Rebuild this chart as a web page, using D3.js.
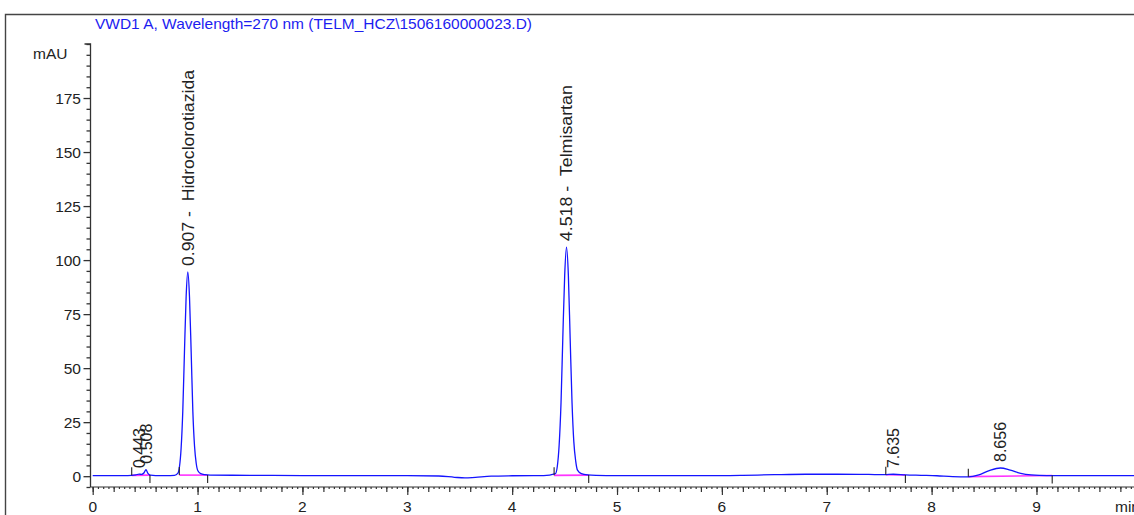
<!DOCTYPE html>
<html><head><meta charset="utf-8">
<script src="https://cdn.jsdelivr.net/npm/d3@7"></script>
<style>
html,body{margin:0;padding:0;background:#fff;overflow:hidden}
svg{display:block;font-family:"Liberation Sans",Arial,sans-serif}
</style></head><body>
<script>
// ---- data ----
const title = "VWD1 A, Wavelength=270 nm (TELM_HCZ\\1506160000023.D)";
const yUnit = "mAU";
const xUnit = "min";
const yTicks = [0, 25, 50, 75, 100, 125, 150, 175];
const xTicks = [0, 1, 2, 3, 4, 5, 6, 7, 8, 9];
const traceTime = [0, 0.2, 0.30, 0.37, 0.41, 0.443, 0.465, 0.49, 0.508, 0.525, 0.55, 0.60, 0.70, 0.78, 0.811, 0.827, 0.843, 0.859, 0.875, 0.891, 0.907, 0.923, 0.939, 0.955, 0.971, 0.987, 1.003, 1.03, 1.07, 1.12, 1.5, 2.0, 2.5, 3.0, 3.3, 3.45, 3.55, 3.65, 3.8, 4.0, 4.3, 4.413, 4.431, 4.448, 4.466, 4.483, 4.501, 4.518, 4.536, 4.553, 4.571, 4.588, 4.606, 4.623, 4.66, 4.72, 4.8, 5.0, 5.5, 6.0, 6.2, 6.5, 6.8, 7.1, 7.4, 7.55, 7.635, 7.75, 7.9, 8.05, 8.2, 8.35, 8.45, 8.55, 8.656, 8.75, 8.85, 8.95, 9.1, 9.5, 9.93];
const traceMAU  = [0.3, 0.3, 0.3, 0.4, 0.6, 1.0, 0.8, 1.6, 3.0, 1.4, 0.5, 0.3, 0.3, 0.4, 1.3, 4.2, 12.8, 30, 57.5, 83, 94.5, 83, 57.5, 30, 14, 6, 2.5, 1.2, 0.7, 0.5, 0.4, 0.3, 0.3, 0.3, 0.1, -0.5, -0.8, -0.5, 0.0, 0.2, 0.3, 1.2, 4.7, 14.3, 34, 64, 93, 106, 93, 64, 34, 16, 7, 2.8, 1.2, 0.6, 0.4, 0.3, 0.3, 0.3, 0.4, 0.7, 0.9, 0.9, 0.8, 0.7, 0.9, 0.6, 0.4, 0.2, -0.2, -0.3, 0.6, 2.6, 3.8, 2.8, 1.3, 0.6, 0.3, 0.3, 0.3];
const peakRT     = [0.443, 0.508, 0.907, 4.518, 7.635, 8.656];
const peakApex   = [1.0, 3.0, 94.5, 106, 1.0, 3.8];
const peakLabels = ["0.443", "0.508", "0.907 -  Hidroclorotiazida", "4.518 -  Telmisartan", "7.635", "8.656"];
const baseStart = [0.372, 0.826, 4.40, 7.563, 8.35];
const baseEnd   = [0.546, 1.096, 4.73, 7.75, 9.15];
const baseStartMAU = [0.4, 0.5, 0.4, 0.7, -0.2];
const baseEndMAU   = [0.5, 0.5, 0.5, 0.6, 0.3];

// ---- layout ----
const W = 1134, H = 515;
const svg = d3.select("body").append("svg").attr("width", W).attr("height", H);
const x = d3.scaleLinear().domain([0, 9.93]).range([92.7, 1134]);
const y = d3.scaleLinear().domain([-5, 200]).range([487, 44]);
const axisCol = "#333";

// frame
svg.append("path").attr("d", `M5.5,${H} V14.5 H${W}`).attr("fill", "none")
  .attr("stroke", "#444").attr("stroke-width", 1.4);

// title
svg.append("text").attr("x", 95).attr("y", 29).attr("fill", "#1c1cf0")
  .attr("font-size", 15).attr("textLength", 437).attr("lengthAdjust", "spacingAndGlyphs").text(title);

// y axis
const yAxisX = 90.5;
const yMinor = d3.range(-5, 201, 5);
const gy = svg.append("g").attr("transform", `translate(${yAxisX},0)`);
gy.call(d3.axisLeft(y).tickValues(yMinor).tickSize(4).tickFormat(""));
gy.selectAll(".tick").filter(d => d % 25 === 0 && d >= 0 && d <= 175).select("line").attr("x2", -7);
gy.select(".domain").attr("d", `M-6,${y(200)}H0V${y(-5)}`);
gy.selectAll("line,path").attr("stroke", axisCol).attr("stroke-width", 1.3);
gy.selectAll("text").remove();
svg.append("g").selectAll("text").data(yTicks).join("text")
  .attr("x", 81).attr("y", d => y(d)).attr("dy", "0.36em").attr("text-anchor", "end")
  .attr("font-size", 15.5).attr("fill", "#222").text(d => d);
svg.append("text").attr("x", 33).attr("y", 53).attr("dy", "0.36em").attr("font-size", 15.5)
  .attr("fill", "#222").text(yUnit);

// x axis
const xAxisY = 487;
const gx = svg.append("g").attr("transform", `translate(0,${xAxisY})`);
gx.append("g").call(d3.axisBottom(x).tickValues(d3.range(0, 9.93, 0.05)).tickSize(2).tickFormat(""))
  .call(g => g.select(".domain").remove());
gx.append("g").call(d3.axisBottom(x).tickValues(d3.range(0, 9.93, 0.2)).tickSize(5).tickFormat(""))
  .call(g => g.select(".domain").remove());
gx.append("g").call(d3.axisBottom(x).tickValues(xTicks).tickSize(8).tickFormat(""))
  .call(g => g.select(".domain").attr("d", `M${yAxisX},0H${W}`));
gx.selectAll("line,path").attr("stroke", axisCol).attr("stroke-width", 1.2);
svg.append("g").selectAll("text").data(xTicks).join("text")
  .attr("x", d => x(d)).attr("y", 512).attr("text-anchor", "middle")
  .attr("font-size", 15.5).attr("fill", "#222").text(d => d);
svg.append("text").attr("x", 1115).attr("y", 512).attr("font-size", 15.5).attr("fill", "#222").text(xUnit);

// integration baselines (magenta)
svg.append("g").selectAll("line").data(baseStart).join("line")
  .attr("x1", (d) => x(d)).attr("y1", (d, i) => y(baseStartMAU[i]))
  .attr("x2", (d, i) => x(baseEnd[i])).attr("y2", (d, i) => y(baseEndMAU[i]))
  .attr("stroke", "#ff33ff").attr("stroke-width", 1.6);

// trace
const pts = traceTime.map((t, i) => [t, traceMAU[i]]);
svg.append("path").datum(pts)
  .attr("d", d3.line().x(d => x(d[0])).y(d => y(d[1])).curve(d3.curveMonotoneX))
  .attr("fill", "none").attr("stroke", "#1414ff").attr("stroke-width", 1.3);

// start / end integration markers
svg.append("g").selectAll("line").data(baseStart).join("line")
  .attr("x1", d => x(d)).attr("x2", d => x(d))
  .attr("y1", (d, i) => y(baseStartMAU[i])).attr("y2", (d, i) => y(baseStartMAU[i]) - 8)
  .attr("stroke", "#222").attr("stroke-width", 1.1);
svg.append("g").selectAll("line").data(baseEnd).join("line")
  .attr("x1", d => x(d)).attr("x2", d => x(d))
  .attr("y1", (d, i) => y(baseEndMAU[i])).attr("y2", (d, i) => y(baseEndMAU[i]) + 8)
  .attr("stroke", "#222").attr("stroke-width", 1.1);

// peak labels
const labLen = {"0.907 -  Hidroclorotiazida": 196, "4.518 -  Telmisartan": 156};
const lab = svg.append("g").selectAll("g").data(peakRT).join("g")
  .attr("transform", (d, i) => `translate(${x(d)},${y(peakApex[i]) - 6}) rotate(-90)`);
lab.append("text").attr("dy", "0.36em").attr("font-size", 16).attr("fill", "#222")
  .style("white-space", "pre").attr("xml:space", "preserve")
  .each(function(d, i) {
    const s = d3.select(this).text(peakLabels[i]);
    if (labLen[peakLabels[i]]) s.attr("textLength", labLen[peakLabels[i]]).attr("lengthAdjust", "spacingAndGlyphs");
  });
</script>
</body></html>
